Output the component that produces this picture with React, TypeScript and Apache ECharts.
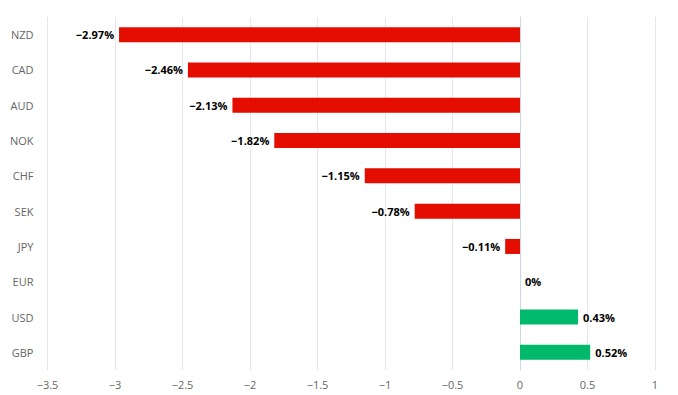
import React, { useEffect, useRef } from "react";
import * as echarts from "echarts";

const categories = ["NZD", "CAD", "AUD", "NOK", "CHF", "SEK", "JPY", "EUR", "USD", "GBP"];
const values = [-2.97, -2.46, -2.13, -1.82, -1.15, -0.78, -0.11, 0, 0.43, 0.52];

const fmt = (v: number) => {
  const s = String(Math.abs(v));
  return (v < 0 ? "\u2212" : "") + s;
};

export default function App() {
  const ref = useRef<HTMLDivElement>(null);
  useEffect(() => {
    const chart = echarts.init(ref.current!, null, { renderer: "svg" });
    chart.setOption({
      animation: false,
      textStyle: { fontFamily: "Open Sans" },
      grid: { left: 47.5, right: 23, top: 17, bottom: 25, containLabel: false },
      xAxis: {
        type: "value",
        min: -3.5,
        max: 1,
        interval: 0.5,
        axisLine: { show: false },
        axisTick: { show: false },
        splitLine: { lineStyle: { color: "#e6e6e6", width: 1 } },
        axisLabel: {
          color: "#666",
          fontSize: 11,
          margin: 9,
          formatter: (v: number) => fmt(Math.round(v * 10) / 10),
        },
      },
      yAxis: {
        type: "category",
        data: categories,
        inverse: true,
        axisLine: { lineStyle: { color: "#ccd6eb" } },
        axisTick: { length: 10, lineStyle: { color: "#ccd6eb" } },
        splitLine: { show: false },
        axisLabel: { color: "#666", fontSize: 11, margin: 14 },
      },
      series: [
        {
          type: "bar",
          barWidth: 15,
          data: values.map((v) => ({
            value: v,
            itemStyle: { color: v < 0 ? "#e30d00" : "#00b96b" },
            label: {
              show: true,
              position: v < 0 ? "left" : "right",
              distance: 5,
              formatter: fmt(v) + "%",
              color: "#000",
              fontWeight: "bold",
              fontSize: 11,
              fontFamily: "Open Sans",
              textBorderColor: "#fff",
              textBorderWidth: 1,
            },
          })),
        },
      ],
    });
    return () => chart.dispose();
  }, []);
  return (
    <div
      ref={ref}
      style={{ position: "fixed", left: 0, top: 0, width: 678, height: 395, background: "#fff" }}
    />
  );
}
